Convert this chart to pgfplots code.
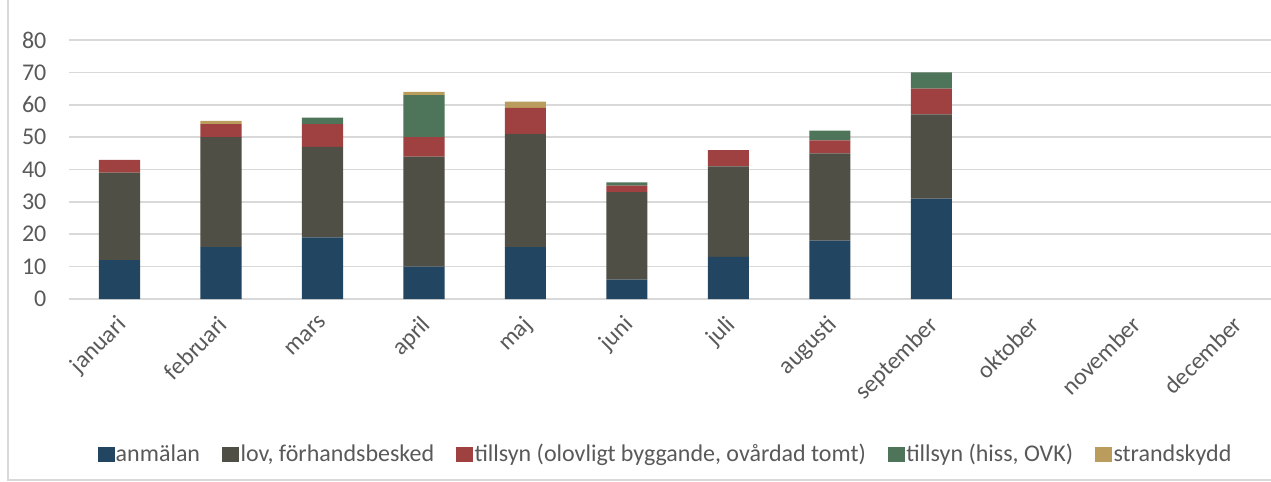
\documentclass[border=0pt]{standalone}
\usepackage{fontspec}
\setmainfont{Carlito}
\usepackage{pgfplots}
\pgfplotsset{compat=1.18}
\definecolor{c1}{HTML}{224561}
\definecolor{c2}{HTML}{4F4F45}
\definecolor{c3}{HTML}{A04141}
\definecolor{c4}{HTML}{4E7559}
\definecolor{c5}{HTML}{BA9D5C}
\definecolor{gridc}{HTML}{D9D9D9}
\definecolor{textc}{HTML}{595959}
\pgfplotsset{lg/.style={legend image code/.code={\fill[##1] (0bp,-3.75bp) rectangle (8.5bp,3.75bp);}}}
\begin{document}
\fontsize{12bp}{14bp}\selectfont
\begin{tikzpicture}
\useasboundingbox (0,0) rectangle (635.5bp,241bp);
\draw[color=gridc, line width=0.75bp] (4bp,241bp) -- (4bp,1bp) -- (635.5bp,1bp);
\begin{axis}[
  at={(34.375bp,91.5bp)}, anchor=south west,
  scale only axis, width=601.125bp, height=129.5bp,
  ybar stacked, bar width=0.404,
  xmin=-0.5, xmax=11.345, ymin=0, ymax=80,
  ytick={0,10,...,80},
  xtick={0,...,11},
  xticklabels={januari,februari,mars,april,maj,juni,juli,augusti,september,oktober,november,december},
  ymajorgrids, grid style={gridc, line width=0.85bp},
  axis line style={draw=none}, major tick length=0,
  tick label style={text=textc, font=\fontsize{12bp}{14bp}\selectfont},
  /pgf/number format/assume math mode=true,
  yticklabel style={xshift=-7bp},
  xticklabel style={xshift=-2bp, yshift=-6bp, rotate=45, anchor=north east, inner sep=1bp},
  clip=false,
  legend style={at={(0.496,-0.602)}, anchor=center, draw=none, fill=none,
    legend columns=-1, font=\fontsize{12bp}{14bp}\selectfont, text=textc,
    /tikz/every even column/.append style={column sep=10.5bp},
    nodes={inner sep=0.6bp}},
]
\addplot[fill=c1, draw=none, lg] coordinates {(0,12) (1,16) (2,19) (3,10) (4,16) (5,6) (6,13) (7,18) (8,31) (9,0) (10,0) (11,0)};
\addplot[fill=c2, draw=none, lg] coordinates {(0,27) (1,34) (2,28) (3,34) (4,35) (5,27) (6,28) (7,27) (8,26) (9,0) (10,0) (11,0)};
\addplot[fill=c3, draw=none, lg] coordinates {(0,4) (1,4) (2,7) (3,6) (4,8) (5,2) (6,5) (7,4) (8,8) (9,0) (10,0) (11,0)};
\addplot[fill=c4, draw=none, lg] coordinates {(0,0) (1,0) (2,2) (3,13) (4,0) (5,1) (6,0) (7,3) (8,5) (9,0) (10,0) (11,0)};
\addplot[fill=c5, draw=none, lg] coordinates {(0,0) (1,1) (2,0) (3,1) (4,2) (5,0) (6,0) (7,0) (8,0) (9,0) (10,0) (11,0)};
\legend{anmälan, {lov, förhandsbesked}, {tillsyn (olovligt byggande, ovårdad tomt)}, {tillsyn (hiss, OVK)}, strandskydd}
\end{axis}
\end{tikzpicture}
\end{document}
